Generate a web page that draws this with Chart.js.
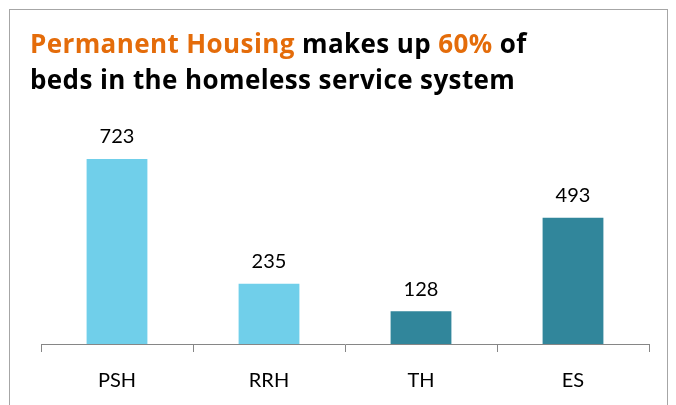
<!DOCTYPE html>
<html>
<head>
<meta charset="utf-8">
<script src="https://cdn.jsdelivr.net/npm/chart.js@4"></script>
<style>
  body { margin: 0; background: #fff; }
  #wrap { position: relative; width: 676px; height: 405px; overflow: hidden; }
  #box { position: absolute; left: 9px; top: 9px; width: 659px; height: 420px; border: 1px solid #a6a6a6; box-sizing: border-box; }
  #title { position: absolute; left: 30px; top: 25px; font-family: "Open Sans", sans-serif; font-weight: bold; font-size: 26px; line-height: 36px; color: #000; letter-spacing: 0.4px; }
  #title .hl { color: #e46c0a; }
  canvas { position: absolute; left: 0; top: 0; }
</style>
</head>
<body>
<div id="wrap">
  <div id="box"></div>
  <canvas id="myChart" width="676" height="410"></canvas>
  <div id="title"><span class="hl">Permanent Housing</span> makes up <span class="hl">60%</span> of<br>beds in the homeless service system</div>
</div>
<script>
const categories = ['PSH', 'RRH', 'TH', 'ES'];
const beds = [723, 235, 128, 493];
const barColors = ['#70cfea', '#70cfea', '#31869b', '#31869b'];

const valueLabels = {
  id: 'valueLabels',
  afterDatasetsDraw(chart) {
    const ctx = chart.ctx;
    const meta = chart.getDatasetMeta(0);
    ctx.save();
    ctx.font = '20px Lato, sans-serif';
    ctx.fillStyle = '#000';
    ctx.textAlign = 'center';
    ctx.textBaseline = 'bottom';
    meta.data.forEach((bar, i) => {
      ctx.fillText(beds[i], bar.x, bar.y - 12);
    });
    ctx.restore();
  }
};

const data = {
  labels: categories,
  datasets: [{
    label: 'Beds',
    data: beds,
    backgroundColor: barColors,
    barPercentage: 0.4,
    categoryPercentage: 1
  }]
};

const config = {
  type: 'bar',
  data: data,
  options: {
    responsive: false,
    animation: false,
    layout: { padding: { left: 41, right: 27, top: 120, bottom: 0 } },
    plugins: { legend: { display: false }, tooltip: { enabled: false } },
    scales: {
      x: {
        grid: { drawOnChartArea: false, tickLength: 8, color: '#868686', offset: true },
        border: { color: '#868686', width: 1 },
        ticks: { color: '#000', font: { family: 'Lato, sans-serif', size: 20 }, padding: 17 }
      },
      y: { display: false, min: 0, max: 875 }
    }
  },
  plugins: [valueLabels]
};

const myChart = new Chart(document.getElementById('myChart'), config);
</script>
</body>
</html>
